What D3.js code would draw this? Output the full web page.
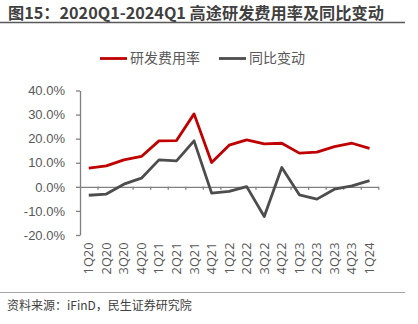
<!DOCTYPE html>
<html>
<head>
<meta charset="utf-8">
<script src="https://cdn.jsdelivr.net/npm/d3@7"></script>
<style>
  body { margin: 0; background: #fff; }
  svg { display: block; font-family: "Noto Sans CJK SC", "Liberation Sans", sans-serif; }
</style>
</head>
<body>
<svg id="chart"></svg>
<script>
// data
const quarters = ['1Q20', '2Q20', '3Q20', '4Q20', '1Q21', '2Q21', '3Q21', '4Q21', '1Q22',
    '2Q22', '3Q22', '4Q22', '1Q23', '2Q23', '3Q23', '4Q23', '1Q24'];
const rdRate = [7.8, 8.7, 11.2, 12.6, 19.1, 19.2, 30.3, 10.1, 17.3, 19.5, 17.8, 18.1, 14.0, 14.4, 16.7, 18.1, 16.0];
const yoyChange = [-3.5, -3.0, 1.1, 3.6, 11.2, 10.8, 19.1, -2.6, -1.9, 0.1, -12.3, 8.0, -3.3, -5.1, -1.0, 0.4, 2.6];
const seriesNames = ['研发费用率', '同比变动'];
const yTicks = [-20, -10, 0, 10, 20, 30, 40];

const width = 418, height = 324;
const colors = ['#C00000', '#4D4D4D'];
const axisColor = '#808080';

const svg = d3.select('#chart').attr('width', width).attr('height', height);

// title and rules
svg.append('text')
    .attr('x', 8).attr('y', 18.5)
    .attr('font-size', 16.2).attr('font-weight', 'bold').attr('fill', '#404040')
    .text('图15：2020Q1-2024Q1 高途研发费用率及同比变动');
svg.append('line').attr('x1', 0).attr('x2', 405).attr('y1', 22.5).attr('y2', 22.5)
    .attr('stroke', '#595959').attr('stroke-width', 1.5);
svg.append('line').attr('x1', 0).attr('x2', 405).attr('y1', 292.5).attr('y2', 292.5)
    .attr('stroke', '#A6A6A6').attr('stroke-width', 1);
svg.append('text')
    .attr('x', 7).attr('y', 310)
    .attr('font-size', 12).attr('fill', '#404040')
    .text('资料来源：iFinD，民生证券研究院');

// scales
const x = d3.scaleBand().domain(quarters).range([80, 378.3]);
const xi = d3.scaleLinear().domain([0, quarters.length]).range([80, 378.3]);
const y = d3.scaleLinear().domain([-20, 40]).range([235, 90.5]);

// y axis
const yAxis = svg.append('g')
    .attr('transform', 'translate(80,0)')
    .call(d3.axisLeft(y).tickValues(yTicks).tickSize(4).tickSizeOuter(0)
        .tickFormat(d => d.toFixed(1) + '%'));
yAxis.select('.domain').attr('stroke', axisColor).attr('stroke-width', 1.3);
yAxis.selectAll('.tick line').attr('stroke', axisColor).attr('stroke-width', 1.3);
yAxis.selectAll('text').attr('font-size', 13).attr('fill', '#595959')
    .attr('font-family', '"Liberation Sans", sans-serif').attr('x', -15);

// x axis line at zero with ticks on category boundaries
const xAxis = svg.append('g')
    .attr('transform', `translate(0,${y(0)})`)
    .call(d3.axisBottom(xi).tickValues(d3.range(1, quarters.length + 1)).tickSize(3)
        .tickSizeOuter(0).tickFormat(''));
xAxis.select('.domain').attr('stroke', axisColor).attr('stroke-width', 1.3);
xAxis.selectAll('.tick line').attr('stroke', axisColor).attr('stroke-width', 1.3);

// category labels
const xLabels = svg.append('g')
    .attr('transform', 'translate(0,242.5)')
    .call(d3.axisBottom(x).tickSize(0));
xLabels.select('.domain').remove();
xLabels.selectAll('text')
    .attr('transform', 'rotate(-90)')
    .attr('x', 0).attr('y', 0).attr('dy', '0.35em')
    .attr('text-anchor', 'end')
    .attr('font-size', 12.8).attr('fill', '#595959')
    .attr('font-family', '"Open Sans", sans-serif');

// lines
const line = d3.line()
    .x((d, i) => x(quarters[i]) + x.bandwidth() / 2)
    .y(d => y(d));

[rdRate, yoyChange].forEach((vals, k) => {
    svg.append('path')
        .datum(vals)
        .attr('fill', 'none')
        .attr('stroke', colors[k])
        .attr('stroke-width', 2.8)
        .attr('stroke-linejoin', 'round')
        .attr('d', line);
});

// legend
const legendX = [100, 219];
seriesNames.forEach((name, k) => {
    const g = svg.append('g').attr('transform', `translate(${legendX[k]},58.5)`);
    g.append('line').attr('x1', 0).attr('x2', 27).attr('y1', 0).attr('y2', 0)
        .attr('stroke', colors[k]).attr('stroke-width', 2.8);
    g.append('text').attr('x', 30).attr('y', 0).attr('dy', '0.35em')
        .attr('font-size', 14).attr('fill', '#595959')
        .text(name);
});
</script>
</body>
</html>
